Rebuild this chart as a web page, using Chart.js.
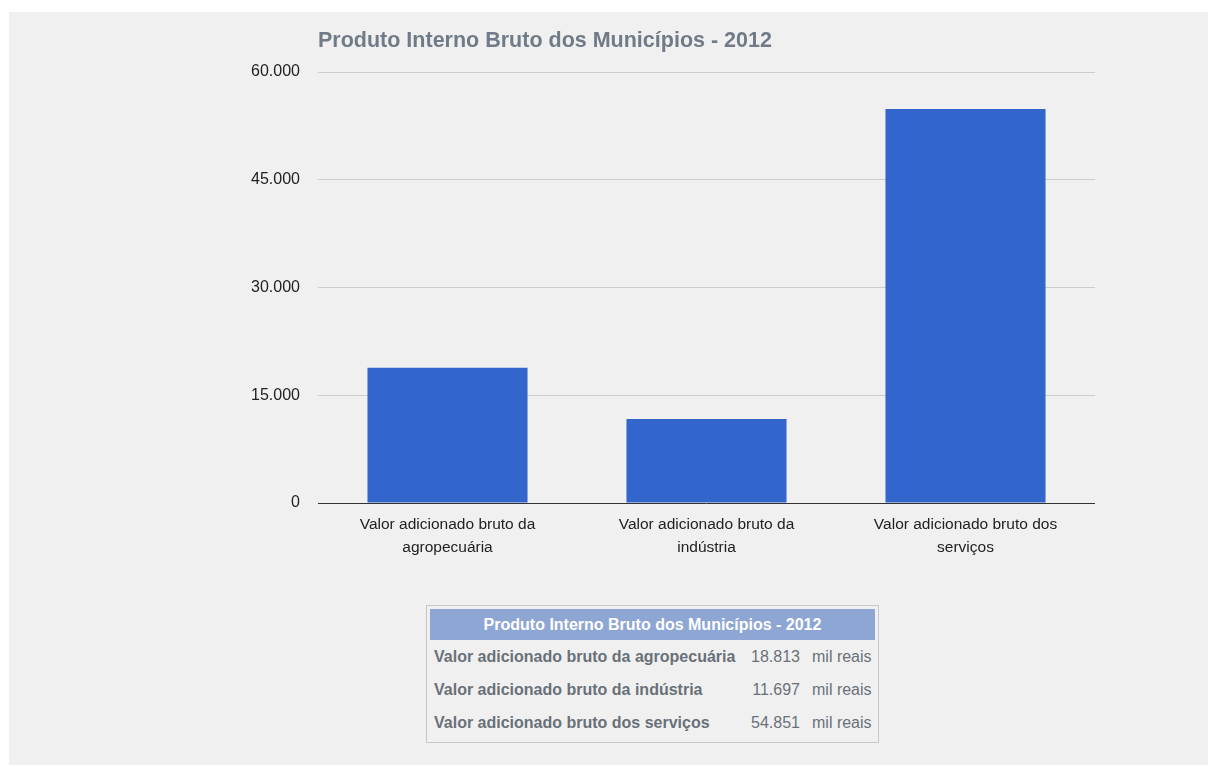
<!DOCTYPE html>
<html>
<head>
<meta charset="utf-8">
<script src="https://cdn.jsdelivr.net/npm/chart.js@4"></script>
<style>
  body { margin: 0; background: #fff; font-family: "Liberation Sans", Arial, sans-serif; }
  #panel { position: absolute; left: 9px; top: 12px; width: 1199px; height: 753px; background: #f0f0f0; }
  #chartBox { position: absolute; left: 0; top: 0; width: 1208px; height: 580px; }
  #tbl { position: absolute; left: 426px; top: 605px; width: 445px; border: 1px solid #c8c8c8; padding: 3px; }
  #tbl table { border-collapse: collapse; width: 445px; table-layout: fixed; }
  #tbl th { background: #8ea6d4; color: #fff; font-size: 16px; font-weight: bold; height: 31px; padding: 0; white-space: nowrap; }
  #tbl td { font-size: 16px; color: #6a7078; height: 33px; padding: 0; white-space: nowrap; overflow: visible; }
  #tbl td.lbl { font-weight: bold; padding-left: 4px; }
  #tbl td.num { text-align: right; padding-right: 2px; }
  #tbl td.unit { padding-left: 10px; }
</style>
</head>
<body>
<div id="panel"></div>
<div id="chartBox"><canvas id="barChart"></canvas></div>
<div id="tbl"></div>
<script>
const chartTitle = "Produto Interno Bruto dos Municípios - 2012";
const categories = [
  ["Valor adicionado bruto da", "agropecuária"],
  ["Valor adicionado bruto da", "indústria"],
  ["Valor adicionado bruto dos", "serviços"]
];
const tableLabels = [
  "Valor adicionado bruto da agropecuária",
  "Valor adicionado bruto da indústria",
  "Valor adicionado bruto dos serviços"
];
const values = [18813, 11697, 54851];
const unit = "mil reais";
const yTicks = [0, 15000, 30000, 45000, 60000];

function fmt(n) {
  return String(n).replace(/\B(?=(\d{3})+(?!\d))/g, ".");
}

// titulo alinhado com a area do grafico
const titlePlugin = {
  id: "leftTitle",
  afterDraw(chart) {
    const ctx = chart.ctx;
    ctx.save();
    ctx.font = "bold 21.5px 'Liberation Sans', Arial, sans-serif";
    ctx.fillStyle = "#707b87";
    ctx.textBaseline = "middle";
    ctx.textAlign = "left";
    ctx.fillText(chartTitle, chart.chartArea.left, 41);
    ctx.restore();
  }
};

new Chart(document.getElementById("barChart"), {
  type: "bar",
  data: {
    labels: categories,
    datasets: [{
      data: values,
      backgroundColor: "#3366cc",
      categoryPercentage: 1,
      barPercentage: 0.618
    }]
  },
  options: {
    responsive: true,
    maintainAspectRatio: false,
    animation: false,
    layout: { padding: { left: 0, right: 113, top: 72, bottom: 0 } },
    plugins: { legend: { display: false }, tooltip: { enabled: false } },
    scales: {
      x: {
        grid: { display: false },
        border: { display: false },
        ticks: {
          color: "#222",
          padding: 2,
          maxRotation: 0,
          font: { family: "'Liberation Sans', Arial, sans-serif", size: 15.5, lineHeight: 1.484 }
        },
        afterFit(scale) { scale.height = 77; }
      },
      y: {
        min: 0,
        max: 60000,
        afterBuildTicks(scale) { scale.ticks = yTicks.map(v => ({ value: v })); },
        grid: {
          drawTicks: false,
          color: (c) => (c.tick && c.tick.value === 0 ? "#333" : "#cccccc"),
          lineWidth: 1
        },
        border: { display: false },
        ticks: {
          color: "#222",
          padding: 18,
          callback: (v) => fmt(v),
          font: { family: "'Liberation Sans', Arial, sans-serif", size: 16 }
        },
        afterFit(scale) { scale.width = 318; }
      }
    }
  },
  plugins: [titlePlugin]
});

// tabela com os valores
const tbl = document.createElement("table");
const colgroup = document.createElement("colgroup");
[310, 62, 73].forEach((w) => {
  const col = document.createElement("col");
  col.style.width = w + "px";
  colgroup.appendChild(col);
});
tbl.appendChild(colgroup);
const head = document.createElement("tr");
const th = document.createElement("th");
th.colSpan = 3;
th.textContent = chartTitle;
head.appendChild(th);
tbl.appendChild(head);
tableLabels.forEach((lbl, i) => {
  const tr = document.createElement("tr");
  const a = document.createElement("td");
  a.className = "lbl";
  a.textContent = lbl;
  const b = document.createElement("td");
  b.className = "num";
  b.textContent = fmt(values[i]);
  const c = document.createElement("td");
  c.className = "unit";
  c.textContent = unit;
  [a, b, c].forEach((td) => tr.appendChild(td));
  tbl.appendChild(tr);
});
document.getElementById("tbl").appendChild(tbl);
</script>
</body>
</html>
